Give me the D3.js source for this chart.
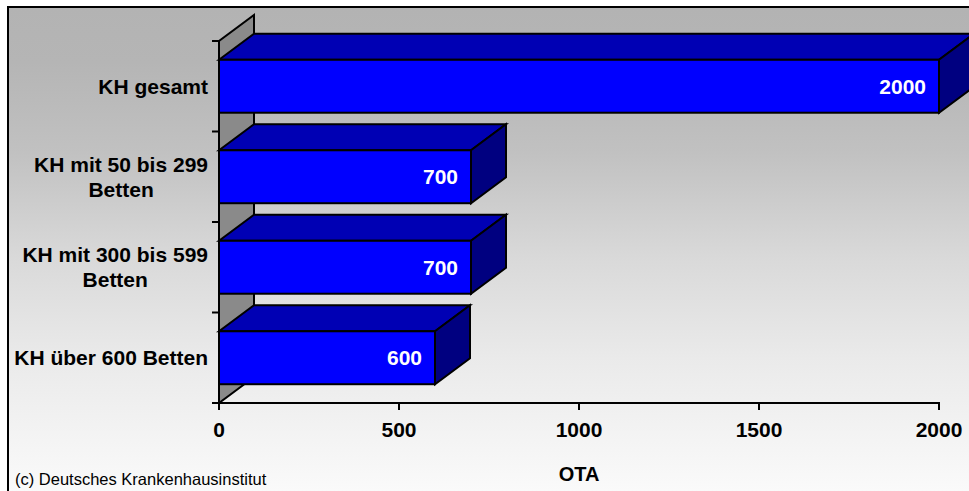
<!DOCTYPE html>
<html>
<head>
<meta charset="utf-8">
<script src="https://cdn.jsdelivr.net/npm/d3@7"></script>
<style>
  html, body { margin: 0; padding: 0; background: #fff; }
  svg { display: block; }
  text { font-family: "Liberation Sans", Arial, Helvetica, sans-serif; }
</style>
</head>
<body>
<svg id="chart" width="969" height="491"></svg>
<script>
// Krankenhäuser nach Größe: Anzahl OTA
const categories = [
  "KH gesamt",
  "KH mit 50 bis 299\nBetten",
  "KH mit 300 bis 599\nBetten",
  "KH über 600 Betten"
];
const values = [2000, 700, 700, 600];
const xTicks = [0, 500, 1000, 1500, 2000];
const xTitle = "OTA";
const source = "(c) Deutsches Krankenhausinstitut";

const W = 969, H = 491;
const svg = d3.select("#chart");

// plot frame
const plot = { left: 219, right: 939, top: 41, bottom: 403 };
const depth = { dx: 35, dy: -26 };

const x = d3.scaleLinear().domain([0, 2000]).range([plot.left, plot.right]);
const band = d3.scaleBand().domain(categories).range([plot.top, plot.bottom]).padding(0);
const barH = band.step() * 0.585;

// background gradient
const defs = svg.append("defs");
const grad = defs.append("linearGradient")
  .attr("id", "bg").attr("x1", 0).attr("y1", 0).attr("x2", 0).attr("y2", 1);
[[0, "#b3b3b3"], [0.11, "#b5b5b5"], [0.29, "#c1c1c1"], [0.5, "#d9d9d9"],
 [0.7, "#eaeaea"], [1, "#fcfcfc"]].forEach(([o, c]) =>
  grad.append("stop").attr("offset", o).attr("stop-color", c));

svg.append("rect")
  .attr("x", 8).attr("y", 7).attr("width", W + 10).attr("height", H + 10)
  .attr("fill", "url(#bg)").attr("stroke", "#000").attr("stroke-width", 2);

// side wall
const x0 = x(0);
svg.append("polygon")
  .attr("points", [
    [x0, plot.bottom], [x0, plot.top],
    [x0 + depth.dx, plot.top + depth.dy], [x0 + depth.dx, plot.bottom + depth.dy]
  ].map(p => p.join(",")).join(" "))
  .attr("fill", "#8a8a8a").attr("stroke", "#000").attr("stroke-width", 2)
  .attr("stroke-linejoin", "miter");

// y-axis ticks at band boundaries
const yTickPos = categories.map(c => band(c)).concat([plot.bottom]);
svg.append("g").selectAll("line").data(yTickPos).join("line")
  .attr("x1", x0 - 7).attr("x2", x0).attr("y1", d => d).attr("y2", d => d)
  .attr("stroke", "#000").attr("stroke-width", 2);

// bars (front, top, side)
const bars = svg.append("g");
categories.forEach((c, i) => {
  const v = values[i];
  const x1 = x(v);
  const yt = band(c) + (band.step() - barH) / 2;
  const yb = yt + barH;
  const g = bars.append("g")
    .attr("stroke", "#000").attr("stroke-width", 2).attr("stroke-linejoin", "miter");
  g.append("polygon")
    .attr("points", [[x0, yt], [x0 + depth.dx, yt + depth.dy], [x1 + depth.dx, yt + depth.dy], [x1, yt]]
      .map(p => p.join(",")).join(" "))
    .attr("fill", "#0000b4");
  g.append("polygon")
    .attr("points", [[x1, yt], [x1 + depth.dx, yt + depth.dy], [x1 + depth.dx, yb + depth.dy], [x1, yb]]
      .map(p => p.join(",")).join(" "))
    .attr("fill", "#000080");
  g.append("rect")
    .attr("x", x0).attr("y", yt).attr("width", x1 - x0).attr("height", barH)
    .attr("fill", "#0000ff");
  // value label
  svg.append("text")
    .attr("x", x1 - 13).attr("y", yt + barH / 2)
    .attr("dy", "0.35em")
    .attr("text-anchor", "end")
    .attr("fill", "#fff").attr("font-weight", "bold").attr("font-size", 21)
    .text(d3.format("d")(v));
});

// axes lines
svg.append("line")
  .attr("x1", x0).attr("x2", x0).attr("y1", plot.top).attr("y2", plot.bottom)
  .attr("stroke", "#000").attr("stroke-width", 2);
svg.append("line")
  .attr("x1", x0 - 7).attr("x2", plot.right + 1).attr("y1", plot.bottom).attr("y2", plot.bottom)
  .attr("stroke", "#000").attr("stroke-width", 2);

// x ticks and labels
const xt = svg.append("g");
xt.selectAll("line").data(xTicks).join("line")
  .attr("x1", d => x(d)).attr("x2", d => x(d))
  .attr("y1", plot.bottom).attr("y2", plot.bottom + 7)
  .attr("stroke", "#000").attr("stroke-width", 2);
xt.selectAll("text").data(xTicks).join("text")
  .attr("x", d => x(d)).attr("y", 437)
  .attr("text-anchor", "middle")
  .attr("font-weight", "bold").attr("font-size", 21).attr("fill", "#000")
  .text(d => d);

// category labels (multi-line centred, block right-aligned)
const labelRight = 208, lineH = 25;
categories.forEach(c => {
  const lines = c.split("\n");
  const g = svg.append("g");
  const t = g.selectAll("text").data(lines).join("text")
    .attr("font-weight", "bold").attr("font-size", 21).attr("fill", "#000")
    .attr("text-anchor", "middle")
    .text(d => d);
  let maxW = 0;
  t.each(function () { maxW = Math.max(maxW, this.getComputedTextLength()); });
  const cy = band(c) + band.step() / 2;
  const firstY = cy - (lines.length - 1) * lineH / 2;
  t.attr("x", labelRight - maxW / 2)
   .attr("y", (d, i) => firstY + i * lineH)
   .attr("dy", "0.35em");
});

// axis title
svg.append("text")
  .attr("x", (plot.left + plot.right) / 2).attr("y", 481)
  .attr("text-anchor", "middle")
  .attr("font-weight", "bold").attr("font-size", 20).attr("fill", "#000")
  .text(xTitle);

// source note
svg.append("text")
  .attr("x", 15).attr("y", 485)
  .attr("font-size", 16.5).attr("fill", "#000")
  .text(source);
</script>
</body>
</html>
